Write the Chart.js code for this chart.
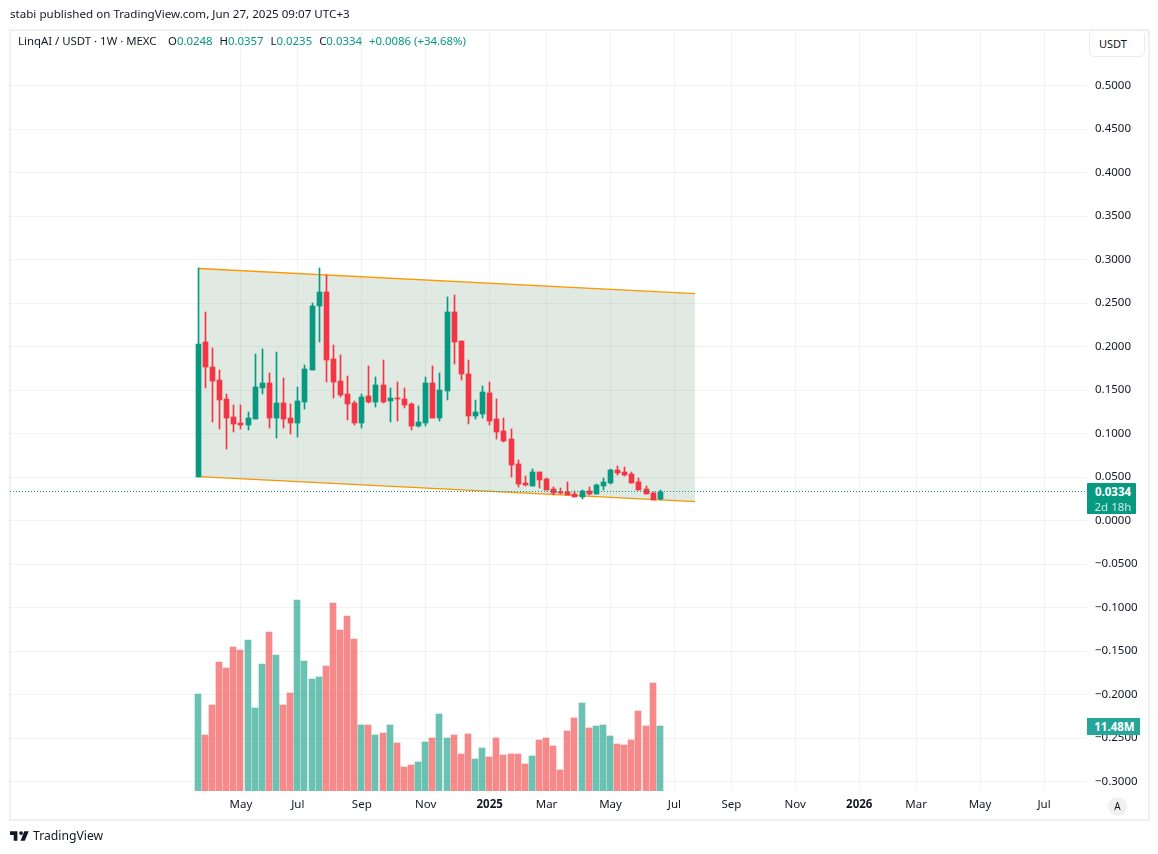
<!DOCTYPE html>
<html>
<head>
<meta charset="utf-8">
<title>LinqAI / USDT</title>
<script src="https://cdn.jsdelivr.net/npm/chart.js@4/dist/chart.umd.min.js"></script>
<style>
  html, body { margin: 0; padding: 0; background: #fff; }
  body { width: 1158px; height: 854px; position: relative; overflow: hidden; font-family: "Noto Sans", sans-serif; color: #131722; }
  canvas { position: absolute; left: 0; top: 0; }
  .abs { position: absolute; white-space: nowrap; }
  #frame { left: 9px; top: 29px; width: 1137px; height: 788px; border: 2px solid #f0f0f1; }
  #published { left: 10px; top: 6px; font-size: 11.6px; line-height: 16px; }
  #legend { left: 18px; top: 33px; font-size: 11.4px; line-height: 16px; }
  #legend b { font-weight: 400; color: #089981; }
  #legend span { margin-right: 4px; display: inline-block; }
  #legend span:first-child { width: 143px; }
  #usdt { left: 1089px; top: 30px; width: 45px; height: 25px; padding-left: 9px; border: 1px solid #ececee; border-radius: 5px; background: #fff; font-size: 11px; line-height: 26px; }
  #lastBox { left: 1087px; top: 483px; width: 49px; height: 31px; padding: 1px 0 0 3px; background: #089981; color: #fff; border-radius: 1px; text-align: center; font-size: 11.5px; line-height: 15px; box-sizing: border-box; }
  #lastBox b { display: block; }
  #lastBox i { font-style: normal; opacity: .8; display: block; }
  #volBox { left: 1087px; top: 718px; width: 53px; height: 17px; background: #26a69a; color: #fff; font-size: 11.5px; font-weight: 700; line-height: 17px; text-align: center; padding-left: 2px; box-sizing: border-box; }
  #auto { left: 1108px; top: 797px; width: 19px; height: 19px; border-radius: 50%; background: #f0f0f1; font-size: 10px; line-height: 19px; text-align: center; }
  #logo { left: 10px; top: 831px; }
  #brand { left: 33px; top: 827px; font-size: 12.2px; line-height: 18px; }
</style>
</head>
<body>
<div id="frame" class="abs"></div>
<canvas id="chart" width="1158" height="854"></canvas>
<div id="published" class="abs">stabi published on TradingView.com, Jun 27, 2025 09:07 UTC+3</div>
<div id="legend" class="abs"><span>LinqAI / USDT · 1W · MEXC</span> <span>O<b>0.0248</b></span> <span>H<b>0.0357</b></span> <span>L<b>0.0235</b></span> <span>C<b>0.0334</b></span> <span><b>+0.0086 (+34.68%)</b></span></div>
<div id="usdt" class="abs">USDT</div>
<div id="lastBox" class="abs"><b>0.0334</b><i>2d 18h</i></div>
<div id="volBox" class="abs">11.48M</div>
<div id="auto" class="abs">A</div>
<svg id="logo" class="abs" width="19" height="10" viewBox="0 0 36 18"><path fill="#131722" d="M14 18H7V7H0V0h14zM28 18h-8L27 0h8.500zM21 7a3.500 3.500 0 1 0 0-7 3.500 3.500 0 0 0 0 7z"/></svg>
<div id="brand" class="abs">TradingView</div>

<script>
const opens = [0.0498,0.2057,0.1770,0.1621,0.1402,0.1195,0.1126,0.1103,0.1172,0.1529,0.1586,0.1184,0.1356,0.1184,0.1126,0.1368,0.1736,0.2471,0.2632,0.1862,0.1609,0.1460,0.1356,0.1126,0.1437,0.1368,0.1563,0.1379,0.1414,0.1402,0.1345,0.1092,0.1126,0.1586,0.1184,0.1494,0.2402,0.2069,0.1690,0.1207,0.1230,0.1471,0.1172,0.1034,0.0943,0.0655,0.0437,0.0402,0.0563,0.0483,0.0368,0.0333,0.0333,0.0310,0.0276,0.0345,0.0310,0.0402,0.0437,0.0586,0.0563,0.0540,0.0448,0.0368,0.0322,0.0248];
const highs = [0.2904,0.2402,0.1989,0.1736,0.1460,0.1333,0.1333,0.1253,0.1920,0.1977,0.1701,0.1943,0.1644,0.1345,0.1540,0.1793,0.2506,0.2908,0.2828,0.2023,0.1908,0.1667,0.1379,0.1456,0.1782,0.1655,0.1851,0.1529,0.1598,0.1529,0.1356,0.1322,0.1655,0.1782,0.1701,0.2575,0.2598,0.2069,0.1851,0.1391,0.1552,0.1598,0.1402,0.1184,0.1057,0.0701,0.0517,0.0598,0.0563,0.0494,0.0391,0.0379,0.0448,0.0345,0.0356,0.0391,0.0425,0.0494,0.0598,0.0632,0.0621,0.0563,0.0494,0.0402,0.0333,0.0357];
const lows = [0.0498,0.1529,0.1138,0.1057,0.0828,0.1023,0.1057,0.1046,0.1172,0.1460,0.1069,0.0954,0.1069,0.1000,0.0966,0.1287,0.1736,0.2057,0.1598,0.1414,0.1425,0.1161,0.1103,0.1069,0.1356,0.1310,0.1356,0.1138,0.1149,0.1299,0.1046,0.1080,0.1092,0.1184,0.1149,0.1391,0.1805,0.1621,0.1115,0.1172,0.1184,0.1103,0.0943,0.0908,0.0506,0.0391,0.0402,0.0402,0.0379,0.0356,0.0299,0.0310,0.0299,0.0276,0.0253,0.0299,0.0310,0.0356,0.0425,0.0529,0.0517,0.0437,0.0356,0.0310,0.0241,0.0235];
const closes = [0.2034,0.1770,0.1609,0.1391,0.1184,0.1115,0.1103,0.1184,0.1540,0.1586,0.1184,0.1356,0.1172,0.1126,0.1379,0.1747,0.2471,0.2632,0.1851,0.1598,0.1448,0.1345,0.1126,0.1425,0.1368,0.1563,0.1368,0.1414,0.1402,0.1333,0.1092,0.1138,0.1586,0.1184,0.1506,0.2402,0.2057,0.1690,0.1207,0.1253,0.1483,0.1149,0.1023,0.0920,0.0644,0.0425,0.0414,0.0563,0.0471,0.0356,0.0322,0.0322,0.0299,0.0276,0.0345,0.0310,0.0414,0.0448,0.0586,0.0552,0.0529,0.0437,0.0356,0.0310,0.0241,0.0334];
const volumes = [17.1,9.9,15.2,22.8,21.7,25.4,24.9,26.7,14.7,22.4,28.1,24.0,15.2,17.3,33.7,23.0,19.8,20.1,22.1,33.2,28.4,30.9,26.8,11.7,11.7,9.9,10.2,11.7,8.5,4.2,4.6,5.1,8.7,9.4,13.6,9.4,9.9,6.5,10.1,5.7,7.6,6.0,9.4,6.4,6.5,6.5,4.8,6.2,9.0,9.4,7.9,3.7,10.6,12.9,15.5,11.1,11.48,11.7,9.7,8.3,8.1,9.0,14.1,11.5,19.1,11.48];

const tickWeeks = [6,14,23,32,41,49,58,67,75,84,93,101,110,119];
const tickLabels = ["May","Jul","Sep","Nov","2025","Mar","May","Jul","Sep","Nov","2026","Mar","May","Jul"];
const priceTicks = [0.5,0.45,0.4,0.35,0.3,0.25,0.2,0.15,0.1,0.05,0,-0.05,-0.1,-0.15,-0.2,-0.25,-0.3];

const channelWeeks = [0,69.9];
const channelTop = [0.2897,0.2609];
const channelBottom = [0.0506,0.0218];
const lastPrice = 0.0334;

const GREEN = "#089981";
const RED = "#f23645";
const GRID = "rgba(42,46,57,0.06)";
const AXIS_FONT = "'Noto Sans', sans-serif";

const isUp = opens.map((o, i) => closes[i] >= o);
const weeks = opens.map((_, i) => i);

// bars land on whole pixels, like the candles of the original
const snapBars = {
  id: "snapBars",
  afterDatasetsUpdate(chart) {
    chart.data.datasets.forEach((ds, d) => {
      if (ds.type !== "bar") return;
      const even = ds.barThickness % 2 === 0;
      chart.getDatasetMeta(d).data.forEach(bar => {
        bar.x = Math.floor(bar.x) + (even ? 0 : 0.5);
        bar.y = Math.round(bar.y);
        bar.base = Math.round(bar.base);
        if (bar.y === bar.base) bar.base = bar.y + 1;
      });
    });
  }
};

new Chart(document.getElementById("chart"), {
  plugins: [snapBars],
  data: {
    datasets: [
      {
        type: "line", order: 6,
        data: channelWeeks.map((x, i) => ({ x: x, y: channelTop[i] })),
        borderColor: "#ff9800", borderWidth: 1.3, pointRadius: 0,
        backgroundColor: "rgba(73,126,85,0.17)", fill: "+1"
      },
      {
        type: "line", order: 6,
        data: channelWeeks.map((x, i) => ({ x: x, y: channelBottom[i] })),
        borderColor: "#ff9800", borderWidth: 1.3, pointRadius: 0, fill: false
      },
      {
        type: "bar", order: 5, yAxisID: "yVol", grouped: false, barThickness: 6,
        data: weeks.map(i => ({ x: i, y: volumes[i] })),
        backgroundColor: isUp.map(u => u ? "rgba(8,153,129,0.6)" : "rgba(240,60,60,0.6)")
      },
      {
        type: "bar", order: 4, grouped: false, barThickness: 1,
        data: weeks.map(i => ({ x: i, y: [lows[i], highs[i]] })),
        backgroundColor: isUp.map(u => u ? GREEN : RED)
      },
      {
        type: "bar", order: 3, grouped: false, barThickness: 5, minBarLength: 1,
        data: weeks.map(i => ({ x: i, y: [opens[i], closes[i]] })),
        backgroundColor: isUp.map(u => u ? GREEN : RED)
      },
      {
        type: "line", order: 2,
        data: [{ x: -26.5, y: lastPrice }, { x: 125.05, y: lastPrice }],
        borderColor: GREEN, borderWidth: 1, borderDash: [1, 2], pointRadius: 0, fill: false
      }
    ]
  },
  options: {
    responsive: false,
    animation: false,
    devicePixelRatio: 1,
    layout: { padding: { left: 10, top: 31, right: 10, bottom: 35 } },
    plugins: { legend: { display: false }, tooltip: { enabled: false } },
    scales: {
      x: {
        type: "linear", min: -26.5, max: 125.05, offset: false,
        grid: { color: GRID, drawTicks: false, offset: false },
        border: { display: false },
        afterBuildTicks: scale => { scale.ticks = tickWeeks.map(v => ({ value: v })); },
        afterFit: scale => { scale.height = 28; },
        ticks: {
          autoSkip: false, maxRotation: 0, padding: 7, color: "#131722",
          font: ctx => ({
            family: AXIS_FONT, size: 11.5,
            weight: ctx.tick && /^\d+$/.test(tickLabels[tickWeeks.indexOf(ctx.tick.value)]) ? "bold" : "normal"
          }),
          callback: value => tickLabels[tickWeeks.indexOf(value)]
        }
      },
      y: {
        position: "right", min: -0.31085, max: 0.56271,
        grid: { color: GRID, drawTicks: false },
        border: { display: false },
        afterBuildTicks: scale => { scale.ticks = priceTicks.map(v => ({ value: v })); },
        afterFit: scale => { scale.width = 61; },
        ticks: {
          padding: 8, color: "#131722", font: { family: AXIS_FONT, size: 11.5 },
          callback: value => (value < 0 ? "\u2212" : "") + Math.abs(value).toFixed(4)
        }
      },
      yVol: { display: false, min: 0, max: 134.2 }
    }
  }
});
</script>
</body>
</html>
